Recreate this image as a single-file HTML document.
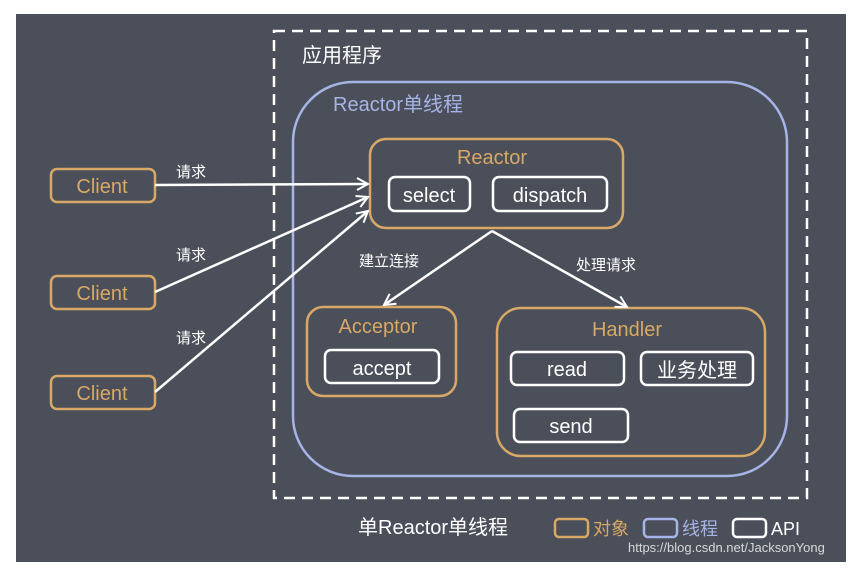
<!DOCTYPE html>
<html><head><meta charset="utf-8"><style>
body{margin:0;background:#fff;width:855px;height:569px;overflow:hidden}
text{font-family:"Liberation Sans","Noto Sans CJK SC",sans-serif}
</style></head><body>
<svg width="855" height="569" viewBox="0 0 855 569" xmlns="http://www.w3.org/2000/svg">
<defs><marker id="a" markerWidth="14" markerHeight="14" refX="12" refY="7" orient="auto" markerUnits="userSpaceOnUse"><path d="M1,1 L12,7 L1,13" fill="none" stroke="#fff" stroke-width="2"/></marker></defs>
<rect x="16" y="14" width="830" height="548" fill="#4b4f5a"/>
<rect x="274" y="31" width="533" height="467" fill="none" stroke="#fff" stroke-width="2.5" stroke-dasharray="11,7"/>
<text x="302" y="62" font-size="20" fill="#fff">应用程序</text>
<rect x="293" y="82" width="494" height="394" rx="60" fill="none" stroke="#a6b4e6" stroke-width="2.5"/>
<text x="333" y="111" font-size="20" fill="#a6b4e6">Reactor单线程</text>
<g fill="none" stroke="#d9a866" stroke-width="2.5">
<rect x="51" y="169" width="104" height="33" rx="6"/><rect x="51" y="276" width="104" height="33" rx="6"/><rect x="51" y="376" width="104" height="33" rx="6"/>
<rect x="370" y="139" width="253" height="89" rx="16"/>
<rect x="307" y="307" width="149" height="89" rx="16"/>
<rect x="497" y="308" width="268" height="148" rx="24"/>
<rect x="555" y="519" width="33" height="18" rx="4"/>
</g>
<rect x="644" y="519" width="33" height="18" rx="4" fill="none" stroke="#a6b4e6" stroke-width="2.5"/>
<g fill="none" stroke="#fff" stroke-width="2.5">
<rect x="389" y="177" width="81" height="34" rx="6"/><rect x="493" y="177" width="114" height="34" rx="6"/>
<rect x="325" y="350" width="114" height="33" rx="6"/>
<rect x="511" y="352" width="113" height="33" rx="6"/><rect x="641" y="352" width="112" height="33" rx="6"/><rect x="514" y="409" width="114" height="33" rx="6"/>
<rect x="733" y="519" width="33" height="18" rx="4"/>
</g>
<g stroke="#fff" stroke-width="2.5" fill="none" marker-end="url(#a)">
<line x1="155" y1="185" x2="368" y2="184"/>
<line x1="155" y1="292" x2="368" y2="197"/>
<line x1="155" y1="392" x2="368" y2="211"/>
<line x1="492" y1="231" x2="384" y2="305"/>
<line x1="492" y1="231" x2="627" y2="307"/>
</g>
<g font-size="15" fill="#fff">
<text x="176" y="177">请求</text><text x="176" y="260">请求</text><text x="176" y="343">请求</text>
<text x="359" y="266">建立连接</text><text x="576" y="270">处理请求</text>
</g>
<g font-size="20" fill="#d9a866" text-anchor="middle">
<text x="102" y="193">Client</text><text x="102" y="300">Client</text><text x="102" y="400">Client</text>
<text x="492" y="164">Reactor</text><text x="378" y="333">Acceptor</text><text x="627" y="336">Handler</text>
</g>
<g font-size="20" fill="#fff" text-anchor="middle">
<text x="429" y="202">select</text><text x="550" y="202">dispatch</text><text x="382" y="375">accept</text>
<text x="567" y="376">read</text><text x="697" y="377">业务处理</text><text x="571" y="433">send</text>
</g>
<text x="358" y="534" font-size="20" fill="#fff">单Reactor单线程</text>
<text x="593" y="535" font-size="18" fill="#d9a866">对象</text>
<text x="682" y="535" font-size="18" fill="#a6b4e6">线程</text>
<text x="771" y="535" font-size="18" fill="#fff">API</text>
<text x="628" y="552" font-size="13" fill="#d8d8d8">https://blog.csdn.net/JacksonYong</text>
</svg>
</body></html>
